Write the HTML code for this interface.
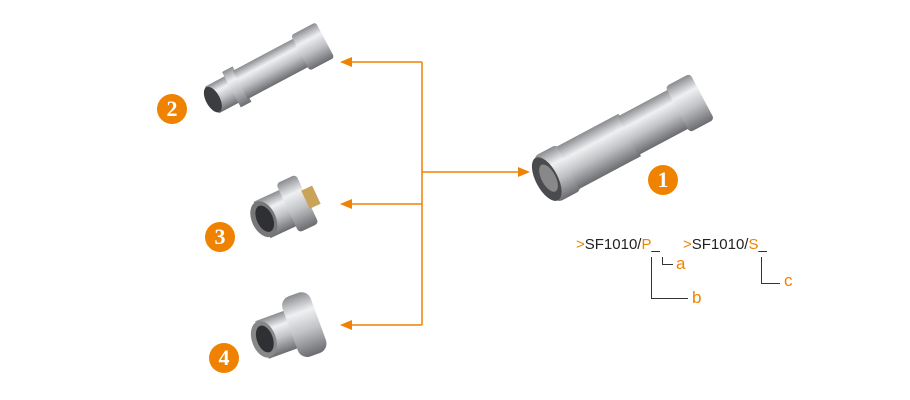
<!DOCTYPE html>
<html><head><style>
body{margin:0;width:910px;height:400px;background:#fff;position:relative;overflow:hidden;font-family:"Liberation Sans",sans-serif}
.n{position:absolute;width:30px;height:30px;border-radius:50%;background:#ef8200;color:#fff;font:bold 22px "Liberation Serif",serif;text-align:center;line-height:30px}
.t{position:absolute;font-size:15px;color:#222;white-space:nowrap}
.o{color:#ef8200}
</style></head><body>
<svg width="910" height="400" style="position:absolute;left:0;top:0">
<defs>
<linearGradient id="m" x1="0" y1="0" x2="0" y2="1">
<stop offset="0" stop-color="#8a8c90"/><stop offset=".3" stop-color="#eef0f2"/><stop offset=".6" stop-color="#c0c2c5"/><stop offset="1" stop-color="#6a6c70"/></linearGradient>
</defs>
<g stroke="#ef8200" stroke-width="1.5" fill="none">
<path d="M422 62V325M350 62H422M350 204H422M350 325H422M422 172H520"/>
</g>
<g fill="#ef8200">
<path d="M340 62l12-5v10z"/><path d="M340 204l12-5v10z"/><path d="M340 325l12-5v10z"/><path d="M530 172l-12-5v10z"/>
</g>
<g transform="translate(545,180) rotate(-28)">
<rect x="0" y="-26" width="28" height="52" rx="6" fill="url(#m)"/>
<rect x="26" y="-24" width="70" height="48" fill="url(#m)"/>
<rect x="94" y="-22" width="60" height="44" fill="url(#m)"/>
<rect x="150" y="-26" width="28" height="52" rx="4" fill="url(#m)"/>
<ellipse cx="2" cy="0" rx="11" ry="24" fill="#4a4b4e"/>
<ellipse cx="4" cy="0" rx="7" ry="15" fill="#888"/>
</g>
<g transform="translate(212,100) rotate(-28)">
<rect x="0" y="-15" width="26" height="30" fill="url(#m)"/>
<rect x="22" y="-20" width="12" height="40" fill="url(#m)"/>
<rect x="32" y="-16" width="70" height="32" fill="url(#m)"/>
<rect x="100" y="-20" width="28" height="40" rx="3" fill="url(#m)"/>
<ellipse cx="1" cy="0" rx="7" ry="14" fill="#3c3d40"/>
</g>
<g transform="translate(262,220) rotate(-25)">
<rect x="0" y="-20" width="30" height="40" fill="url(#m)"/>
<rect x="28" y="-27" width="22" height="54" rx="4" fill="url(#m)"/>
<rect x="48" y="-10" width="12" height="20" fill="#c9a35a"/>
<ellipse cx="2" cy="0" rx="12" ry="19" fill="#777"/>
<ellipse cx="3" cy="0" rx="8" ry="14" fill="#2f3033"/>
</g>
<g transform="translate(262,340) rotate(-20)">
<rect x="0" y="-20" width="34" height="40" fill="url(#m)"/>
<rect x="30" y="-32" width="30" height="64" rx="10" fill="url(#m)"/>
<ellipse cx="2" cy="0" rx="12" ry="19" fill="#888"/>
<ellipse cx="3" cy="0" rx="8" ry="14" fill="#2f3033"/>
</g>
<g stroke="#333" stroke-width="1" fill="none">
<path d="M651.5 257V298.5H688"/><path d="M662.5 257V264.5H673"/><path d="M761.5 257V283.5H780"/>
</g>
</svg>
<div class="n" style="left:157px;top:94px">2</div>
<div class="n" style="left:205px;top:222px">3</div>
<div class="n" style="left:209px;top:343px">4</div>
<div class="n" style="left:648px;top:165px">1</div>
<div class="t" style="left:576px;top:236px"><span class="o">&gt;</span>SF1010/<span class="o">P</span>_</div>
<div class="t" style="left:683px;top:236px"><span class="o">&gt;</span>SF1010/<span class="o">S</span>_</div>
<div class="t o" style="left:676px;top:254px;font-size:17px">a</div>
<div class="t o" style="left:692px;top:288px;font-size:17px">b</div>
<div class="t o" style="left:784px;top:271px;font-size:17px">c</div>
</body></html>
